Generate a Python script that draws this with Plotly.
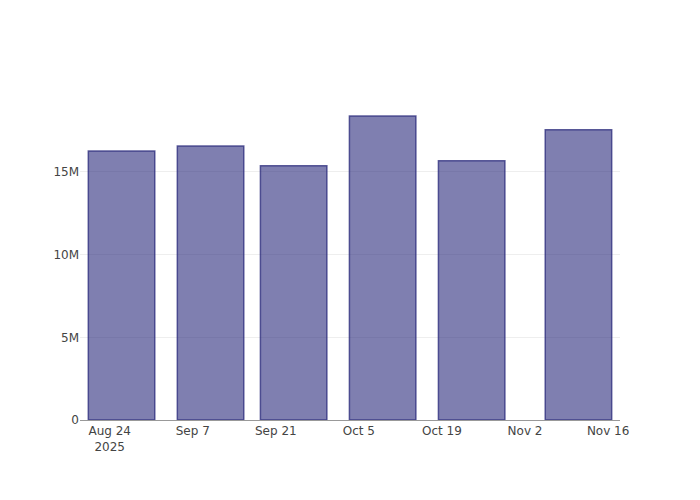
import plotly.graph_objects as go

dates = ["2025-08-26", "2025-09-10", "2025-09-24", "2025-10-09", "2025-10-24", "2025-11-11"]
values = [16.27e6, 16.57e6, 15.37e6, 18.38e6, 15.67e6, 17.55e6]

fig = go.Figure(
    go.Bar(
        x=dates,
        y=values,
        marker=dict(color="rgba(42,42,123,0.6)",
                    line=dict(color="rgba(42,42,123,0.75)", width=1.5)),
    )
)

fig.update_layout(
    width=700,
    height=500,
    margin=dict(l=80, r=80, t=100, b=80),
    template="plotly_white",
    font=dict(family="DejaVu Sans", size=12, color="#444"),
    plot_bgcolor="white",
    paper_bgcolor="white",
    showlegend=False,
    xaxis=dict(
        type="date",
        showgrid=False,
        showline=True,
        linecolor="#999",
        linewidth=1,
        dtick=14 * 24 * 3600 * 1000,
        tick0="2025-08-24",
        tickformat="%b %-d\n%Y",
        ticks="",
    ),
    yaxis=dict(
        showgrid=True,
        gridcolor="#eee",
        zeroline=False,
        ticks="",
        tickvals=[0, 5e6, 10e6, 15e6],
        ticktext=["0", "5M", "10M", "15M"],
    ),
)

fig.write_html("out.html", config={"displayModeBar": False},
               post_script="document.body.style.margin='0';")
